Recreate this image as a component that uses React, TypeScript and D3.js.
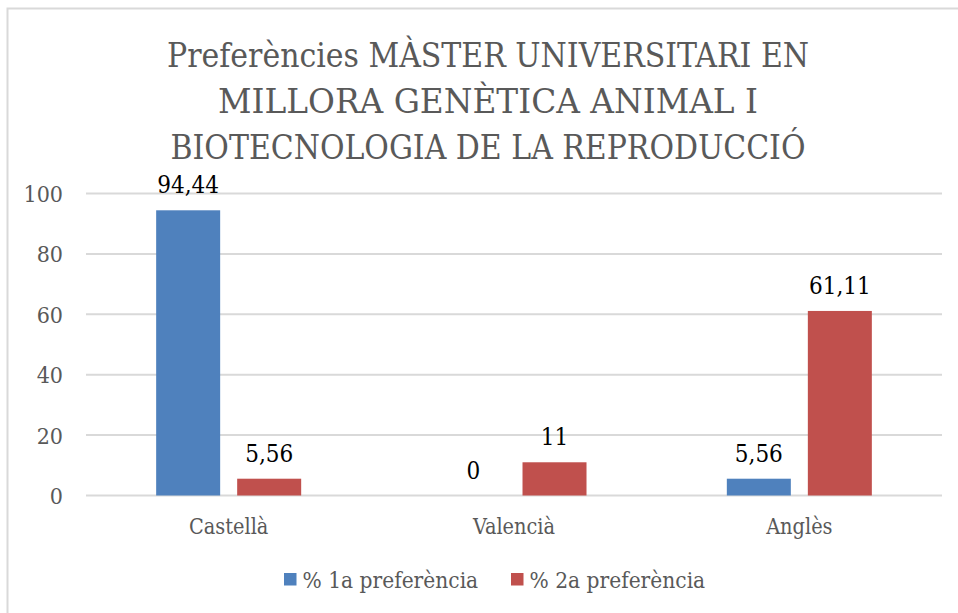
import React from "react";
import * as d3 from "d3";

const titleLines = [
  "Preferències MÀSTER UNIVERSITARI EN",
  "MILLORA GENÈTICA ANIMAL I",
  "BIOTECNOLOGIA DE LA REPRODUCCIÓ",
];
const titleWidths = [642, 540, 635];

const categories = ["Castellà", "Valencià", "Anglès"];
const series = ["% 1a preferència", "% 2a preferència"];
const firstPref = [94.44, 0, 5.56];
const secondPref = [5.56, 11, 61.11];
const labels1 = ["94,44", "0", "5,56"];
const labels2 = ["5,56", "11", "61,11"];
const yTicks = [0, 20, 40, 60, 80, 100];

const colors = ["#4f81bd", "#c0504d"];
const font = "'DejaVu Serif Condensed', 'DejaVu Serif', serif";

const App = () => {
  const width = 958, height = 613;

  const x0 = d3.scaleBand<string>().domain(categories).range([86, 942]);
  const x1 = d3.scaleBand<string>()
    .domain(series)
    .range([0, x0.bandwidth()])
    .paddingInner(0.21)
    .paddingOuter(0.866);
  const y = d3.scaleLinear().domain([0, 100]).range([495.5, 193.5]);

  const values = [firstPref, secondPref];
  const valueLabels = [labels1, labels2];

  return (
    <svg
      width={width}
      height={height}
      style={{ position: "absolute", left: 0, top: 0, background: "#fff", fontStretch: "condensed" }}
      fontFamily={font}
    >
      <rect x={7.5} y={8.5} width={970} height={640} fill="#fff" stroke="#d9d9d9" strokeWidth={2} />

      {titleLines.map((t, i) => (
        <text
          key={t}
          x={488}
          y={67 + i * 46}
          textAnchor="middle"
          fontSize={34}
          fill="#595959"
          textLength={titleWidths[i]}
          lengthAdjust="spacingAndGlyphs"
        >
          {t}
        </text>
      ))}

      {/* gridlines + y tick labels */}
      {yTicks.map(t => (
        <g key={t}>
          <line x1={86} x2={942} y1={y(t)} y2={y(t)} stroke="#d9d9d9" strokeWidth={2} />
          <text x={63} y={y(t) + 8.5} textAnchor="end" fontSize={23} fill="#595959">{t}</text>
        </g>
      ))}

      {/* bars */}
      {categories.map((c, ci) => (
        <g key={c} transform={`translate(${x0(c)},0)`}>
          {series.map((s, si) => {
            const v = values[si][ci];
            const bx = x1(s)!;
            return (
              <g key={s}>
                {v > 0 && (
                  <rect x={bx} y={y(v)} width={x1.bandwidth()} height={y(0) - y(v)} fill={colors[si]} />
                )}
                <text
                  x={bx + x1.bandwidth() / 2}
                  y={y(v) - 17}
                  textAnchor="middle"
                  fontSize={24}
                  fill="#000"
                >
                  {valueLabels[si][ci]}
                </text>
              </g>
            );
          })}
          <text x={x0.bandwidth() / 2} y={534} textAnchor="middle" fontSize={21.5} fill="#595959">{c}</text>
        </g>
      ))}

      {/* legend */}
      {series.map((s, i) => {
        const lx = [284, 511][i];
        return (
          <g key={s}>
            <rect x={lx} y={573} width={12.5} height={12.5} fill={colors[i]} />
            <text x={lx + 18.5} y={588} fontSize={22.5} fill="#595959">{s}</text>
          </g>
        );
      })}
    </svg>
  );
};

export default App;
